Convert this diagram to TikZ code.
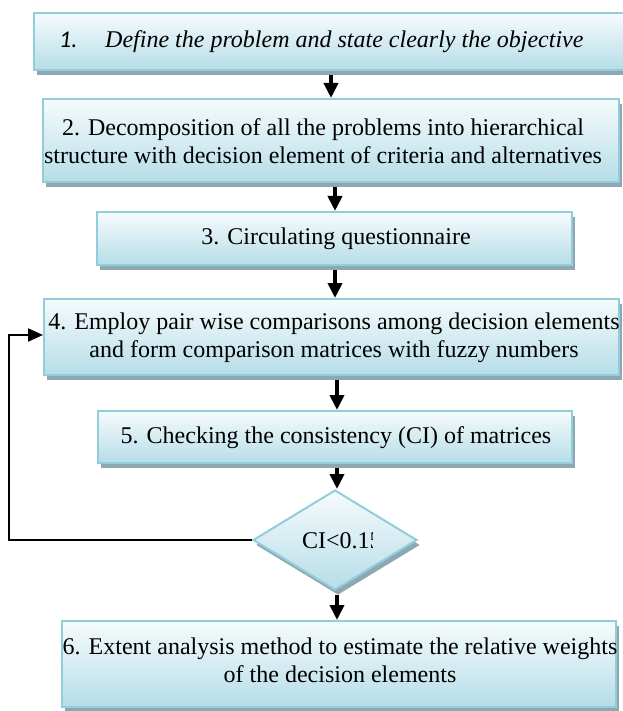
\documentclass[tikz,border=0pt]{standalone}
\usepackage{fontspec}
\setmainfont{Liberation Serif}
\newfontfamily\calib{Carlito}
\usetikzlibrary{shapes.geometric,arrows.meta,shadows}
\definecolor{bord}{RGB}{146,205,220}
\definecolor{fillB}{RGB}{182,221,232}
\definecolor{fillT}{RGB}{246,251,252}
\definecolor{shad}{RGB}{141,168,176}
\tikzset{
  boxshape/.style={rectangle, draw=bord, line width=2pt, top color=fillT, bottom color=fillB,
    drop shadow={shadow xshift=3pt, shadow yshift=-5pt, fill=shad, opacity=1}, inner sep=0pt},
  decshape/.style={diamond, draw=bord, line width=2pt, top color=fillT, bottom color=fillB,
    drop shadow={shadow xshift=3pt, shadow yshift=-5pt, fill=shad, opacity=1}, inner sep=0pt},
  txt/.style={font=\fontsize{24pt}{28pt}\selectfont, align=center, inner sep=0pt},
  arr/.style={line width=4.5pt, -{Triangle[width=14pt,length=15pt]}, shorten <=4pt},
  fb/.style={line width=2pt, -{Triangle[width=13pt,length=15pt]}},
}
\begin{document}
\begin{tikzpicture}[x=1pt,y=-1pt]
\useasboundingbox (0,0) rectangle (622,711);
% boxes
\node[boxshape, minimum width=592pt, minimum height=57pt] (b1) at (330,41.5) {};
\node[boxshape, minimum width=576pt, minimum height=83pt] (b2) at (331,140.5) {};
\node[boxshape, minimum width=475pt, minimum height=53pt] (b3) at (334.5,238.5) {};
\node[boxshape, minimum width=575pt, minimum height=76pt] (b4) at (331.5,337) {};
\node[boxshape, minimum width=474pt, minimum height=52pt] (b5) at (335,437) {};
\node[decshape, minimum width=164pt, minimum height=100pt] (d) at (335,540) {};
\node[boxshape, minimum width=554pt, minimum height=86pt] (b6) at (339,664) {};
% texts
\node[txt, anchor=base west] (t1a) at (59,48) {\calib\itshape 1.};
\node[txt, anchor=base west] (t1b) at (105,48) {\itshape Define the problem and state clearly the objective};
\begin{scope}
  \clip (b2.north west) rectangle (b2.south east);
  \node[txt] (t2) at (323,141) {2. Decomposition of all the problems into hierarchical\\structure with decision element of criteria and alternatives};
\end{scope}
\node[txt] (t3) at (336,239) {3. Circulating questionnaire};
\begin{scope}
  \clip (b4.north west) rectangle (b4.south east);
  \node[txt] (t4) at (334,338) {4. Employ pair wise comparisons among decision elements\\and form comparison matrices with fuzzy numbers};
\end{scope}
\node[txt] (t5) at (336,438) {5. Checking the consistency (CI) of matrices};
\begin{scope}
  \clip (297,520) rectangle (372.5,560);
  \node[txt, anchor=base west] (td) at (302,548) {CI<0.15};
\end{scope}
\begin{scope}
  \clip (b6.north west) rectangle (b6.south east);
  \node[txt] (t6) at (340,660) {6. Extent analysis method to estimate the relative weights\\of the decision elements};
\end{scope}
% connectors
\draw[arr] ([xshift=1pt]b1.south) -- ([xshift=0pt]b2.north);
\draw[arr] ([xshift=4pt]b2.south) -- ([xshift=0.5pt]b3.north);
\draw[arr] ([xshift=0.5pt]b3.south) -- ([xshift=3.5pt]b4.north);
\draw[arr] ([xshift=5.5pt]b4.south) -- ([xshift=2pt]b5.north);
\draw[arr] ([xshift=2pt]b5.south) -- ([xshift=2pt]d.north);
\draw[arr] ([xshift=2pt]d.south) -- ([xshift=-2pt]b6.north);
\coordinate (fbc) at (9,540);
\draw[fb] (d.west) -- (fbc) |- ([yshift=2pt]b4.west);
\end{tikzpicture}
\end{document}
